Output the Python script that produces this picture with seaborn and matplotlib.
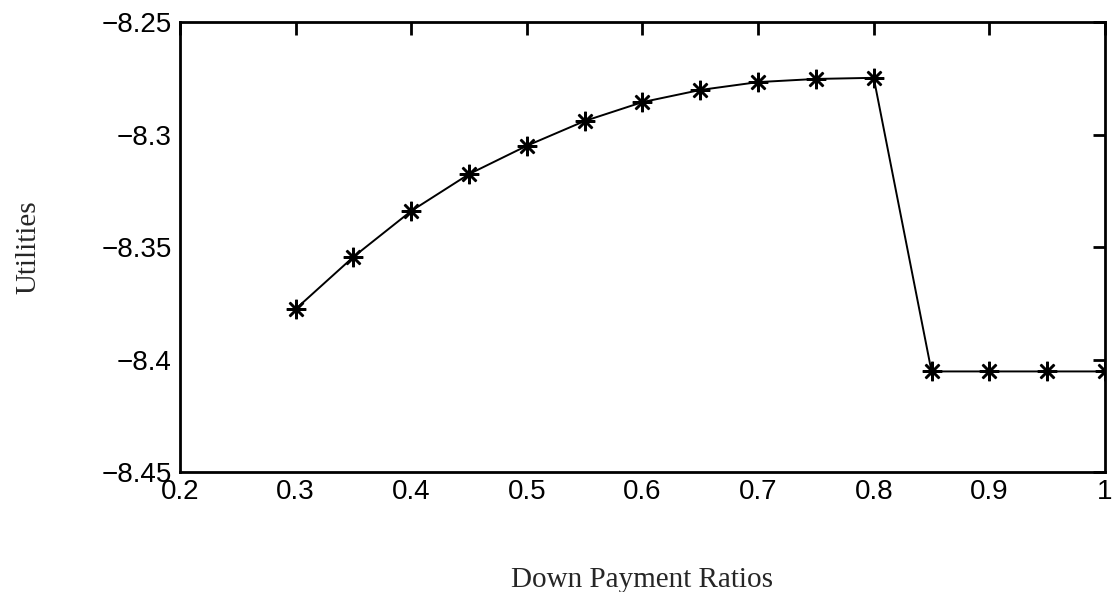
#Import libraries
import pandas as pd
import seaborn as sns
import matplotlib.pyplot as plt

#Data
ratios = [0.30, 0.35, 0.40, 0.45, 0.50, 0.55, 0.60, 0.65, 0.70, 0.75, 0.80, 0.85, 0.90, 0.95, 1.00]
utilities = [-8.3776, -8.3544, -8.3340, -8.3176, -8.3050, -8.2940, -8.2856, -8.2802,
             -8.2767, -8.2753, -8.2748, -8.4053, -8.4053, -8.4053, -8.4053]
x_ticks = [0.2, 0.3, 0.4, 0.5, 0.6, 0.7, 0.8, 0.9, 1.0]
x_tick_labels = ['0.2', '0.3', '0.4', '0.5', '0.6', '0.7', '0.8', '0.9', '1']
y_ticks = [-8.45, -8.4, -8.35, -8.3, -8.25]
y_tick_labels = ['\u22128.45', '\u22128.4', '\u22128.35', '\u22128.3', '\u22128.25']

df = pd.DataFrame({'ratio': ratios, 'utility': utilities})

sns.set_style('white')
plt.rcParams['font.family'] = ['Liberation Sans', 'DejaVu Sans']

fig = plt.figure(figsize=(11.15, 5.92), dpi=100)
ax = fig.add_axes([0.1614, 0.2027, 0.8296, 0.7601])

#Line with 8-arm asterisk markers (MATLAB '*')
sns.lineplot(x='ratio', y='utility', data=df, ax=ax, color='black', linewidth=1.4,
             marker=(8, 2, 0), markersize=14, markeredgewidth=1.8,
             markeredgecolor='black', markerfacecolor='black', sort=False)

ax.set_xlim(0.2, 1.0)
ax.set_ylim(-8.45, -8.25)
ax.set_xticks(x_ticks)
ax.set_xticklabels(x_tick_labels)
ax.set_yticks(y_ticks)
ax.set_yticklabels(y_tick_labels)

#MATLAB style frame with inward ticks on all sides
for side in ax.spines.values():
    side.set_visible(True)
    side.set_color('black')
    side.set_linewidth(2)
ax.tick_params(direction='in', length=9, width=2, top=True, right=True,
               labelsize=20, colors='black')
ax.tick_params(axis='y', pad=6)
ax.tick_params(axis='x', pad=5)

ax.set_xlabel('Down Payment Ratios', fontsize=21, family=['Liberation Serif'], labelpad=45)
ax.set_ylabel('Utilities', fontsize=21, family=['Liberation Serif'], labelpad=43)

fig.savefig('out.png', dpi=100)
